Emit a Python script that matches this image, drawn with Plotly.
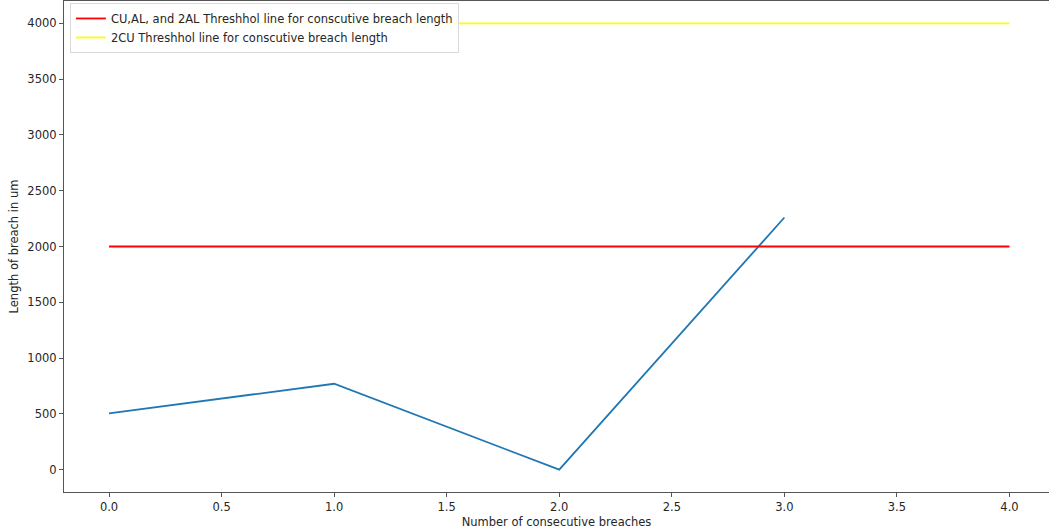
import plotly.graph_objects as go

# Consecutive breach measurements
breach_index = [0, 1, 2, 3]
breach_length = [505, 770, 0, 2260]

# Threshold lines over the same index span
threshold_x = [0, 4]
threshold_cu_al = [2000, 2000]
threshold_2cu = [4000, 4000]

font_family = "DejaVu Sans"
text_color = "#262626"
font_size = 11.5

fig = go.Figure()

fig.add_trace(go.Scatter(
    x=breach_index, y=breach_length, mode="lines",
    line=dict(color="#1f77b4", width=1.8),
    showlegend=False,
))
fig.add_trace(go.Scatter(
    x=threshold_x, y=threshold_cu_al, mode="lines",
    line=dict(color="#ff0000", width=1.8),
    name="CU,AL, and 2AL Threshhol line for conscutive breach length",
))
fig.add_trace(go.Scatter(
    x=threshold_x, y=threshold_2cu, mode="lines",
    line=dict(color="#ffff00", width=1.8),
    name="2CU Threshhol line for conscutive breach length",
))

fig.update_layout(
    width=1049, height=532,
    margin=dict(l=64, r=0, t=1, b=40),
    paper_bgcolor="white", plot_bgcolor="white",
    font=dict(family=font_family, size=font_size, color=text_color),
    legend=dict(
        x=0.006, y=0.996, xanchor="left", yanchor="top",
        bgcolor="rgba(255,255,255,0.8)", bordercolor="#d9d9d9", borderwidth=1,
        font=dict(size=font_size), itemwidth=30, tracegroupgap=0,
    ),
    showlegend=True,
)

fig.update_xaxes(
    range=[-0.2, 4.1756], tickvals=[0, 0.5, 1, 1.5, 2, 2.5, 3, 3.5, 4],
    ticktext=["0.0", "0.5", "1.0", "1.5", "2.0", "2.5", "3.0", "3.5", "4.0"],
    showgrid=False, zeroline=False,
    showline=True, mirror=True, linecolor="#555555", linewidth=1.2,
    ticks="outside", ticklen=4, tickcolor="#555555",
    title=dict(text="Number of consecutive breaches", standoff=5,
               font=dict(size=font_size, color=text_color)),
)
fig.update_yaxes(
    range=[-200, 4200], tickvals=[0, 500, 1000, 1500, 2000, 2500, 3000, 3500, 4000],
    showgrid=False, zeroline=False,
    showline=True, linecolor="#555555", linewidth=1.2,
    ticks="outside", ticklen=4, tickcolor="#555555",
    title=dict(text="Length of breach in um", standoff=6,
               font=dict(size=font_size, color=text_color)),
)

fig.write_html("out.html")
